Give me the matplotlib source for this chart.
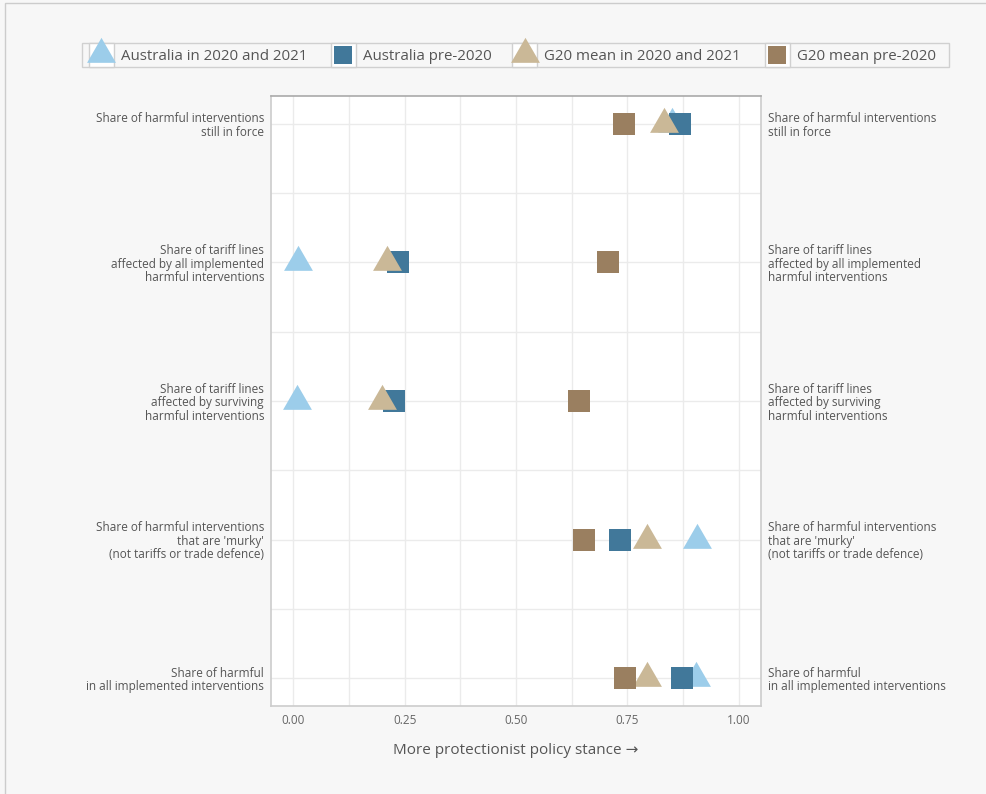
import matplotlib.pyplot as plt
from matplotlib.patches import Rectangle
from matplotlib.lines import Line2D

# -----------------------------
# DATA
# -----------------------------
categories = [
    "Share of harmful interventions\nstill in force",
    "Share of tariff lines\naffected by all implemented\nharmful interventions",
    "Share of tariff lines\naffected by surviving\nharmful interventions",
    "Share of harmful interventions\nthat are 'murky'\n(not tariffs or trade defence)",
    "Share of harmful\nin all implemented interventions",
]
aus_2020_21 = [0.850, 0.011, 0.009, 0.907, 0.905]
aus_pre2020 = [0.868, 0.235, 0.226, 0.733, 0.872]
g20_2020_21 = [0.832, 0.211, 0.200, 0.795, 0.793]
g20_pre2020 = [0.742, 0.706, 0.641, 0.652, 0.744]

series_names = ["Australia in 2020 and 2021", "Australia pre-2020",
                "G20 mean in 2020 and 2021", "G20 mean pre-2020"]
x_ticks = [0, 0.25, 0.5, 0.75, 1.0]
x_tick_labels = ["0.00", "0.25", "0.50", "0.75", "1.00"]

# -----------------------------
# STYLE
# -----------------------------
plt.rcParams["font.family"] = ["Open Sans", "DejaVu Sans"]
BG = "#f7f7f7"
GRID = "#ebebeb"
TXT = "#555555"
colors = ["#9ccdea", "#41789a", "#cab897", "#9a7f60"]
TRI = [(-0.5, -0.2887), (0.5, -0.2887), (0.0, 0.5774)]
markers = [TRI, "s", TRI, "s"]
sizes = [24, 16, 24, 16]

fig = plt.figure(figsize=(9.87, 7.94), dpi=100, facecolor=BG)

# outer frame
fig.patches.append(Rectangle((5 / 987, -0.1), 1.2, 1 - 3 / 794 + 0.1,
                             transform=fig.transFigure, fill=False,
                             edgecolor="#cccccc", linewidth=1))

ax = fig.add_axes([271 / 987, 1 - 706 / 794, 490 / 987, 610 / 794])
ax.set_facecolor("white")

rows = list(range(len(categories)))
all_series = [aus_2020_21, aus_pre2020, g20_2020_21, g20_pre2020]
for vals, c, m, ms, name in zip(all_series, colors, markers, sizes, series_names):
    ax.plot(vals, rows, linestyle="none", marker=m, markersize=ms,
            color=c, markeredgewidth=0, label=name, zorder=3)

ax.set_xlim(-0.05, 1.05)
ax.set_ylim(4.2, -0.2)
ax.set_xticks(x_ticks)
ax.set_xticklabels(x_tick_labels)
ax.set_xticks([0.125, 0.375, 0.625, 0.875], minor=True)
ax.set_yticks(rows)
ax.set_yticklabels(categories)
ax.set_yticks([0.5, 1.5, 2.5, 3.5], minor=True)
ax.grid(True, which="both", color=GRID, linewidth=1, zorder=0)
ax.set_axisbelow(True)

ax.tick_params(axis="both", which="both", length=0, colors=TXT)
ax.tick_params(axis="y", labelleft=True, labelright=True, labelsize=8.5, pad=5)
ax.tick_params(axis="x", labelsize=8.5, pad=6, labelcolor="#666666")
for lab in ax.get_yticklabels():
    lab.set_linespacing(1.05)

for side in ["left", "right", "bottom"]:
    ax.spines[side].set_color("#cccccc")
    ax.spines[side].set_linewidth(1.2)
ax.spines["top"].set_color("#aaaaaa")
ax.spines["top"].set_linewidth(1.2)

ax.set_xlabel("More protectionist policy stance \u2192", fontsize=11,
              color=TXT, labelpad=11)

# -----------------------------
# LEGEND (boxed keys)
# -----------------------------
def fx(px):
    return px / 987

def fy(py):
    return 1 - py / 794

fig.patches.append(Rectangle((fx(82), fy(67)), fx(949) - fx(82), fy(43) - fy(67),
                             transform=fig.transFigure, facecolor=BG,
                             edgecolor="#d0d0d0", linewidth=1))
key_left = [89, 331, 512, 765]
for i, name in enumerate(series_names):
    kx = key_left[i]
    fig.patches.append(Rectangle((fx(kx), fy(67)), fx(25), fy(43) - fy(67),
                                 transform=fig.transFigure, facecolor="white",
                                 edgecolor="#d0d0d0", linewidth=1))
    if i in (0, 2):
        fig.lines.append(Line2D([fx(kx + 12.5)], [fy(54)], transform=fig.transFigure,
                                marker=TRI, markersize=24, color=colors[i],
                                markeredgewidth=0, linestyle="none"))
    else:
        fig.lines.append(Line2D([fx(kx + 12.5)], [fy(55)], transform=fig.transFigure,
                                marker="s", markersize=13, color=colors[i],
                                markeredgewidth=0, linestyle="none"))
    fig.text(fx(kx + 32), fy(55), name, fontsize=10.8, color=TXT,
             va="center_baseline", ha="left")

fig.savefig("out.png", dpi=100, facecolor=BG)
